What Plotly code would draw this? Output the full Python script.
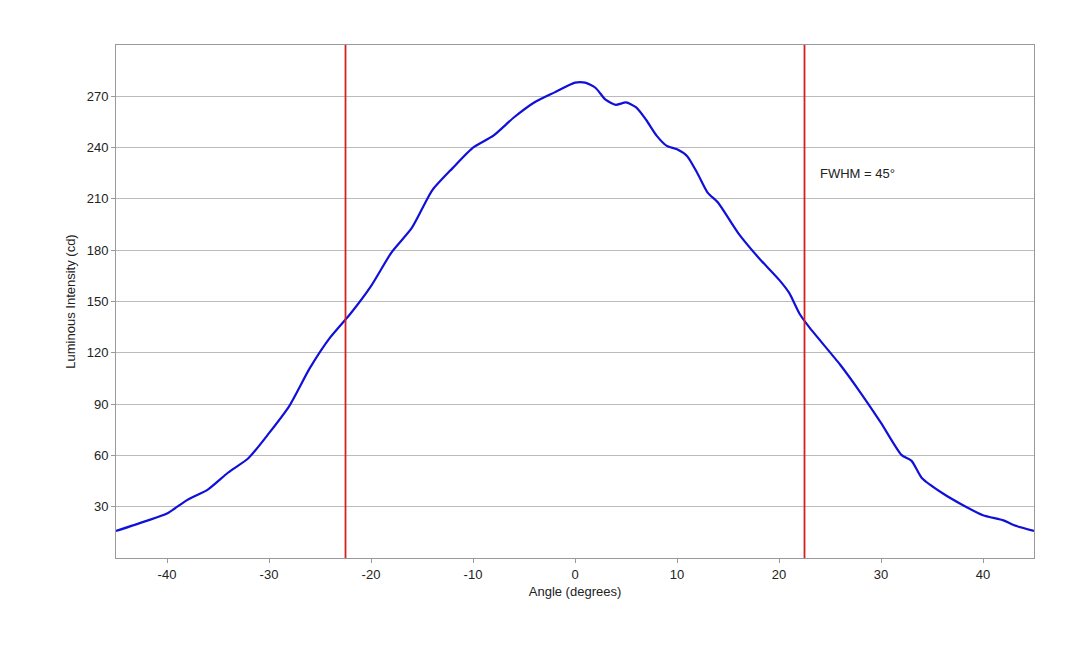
import plotly.graph_objs as go

angle = [-45, -42, -40, -38, -36, -34, -32, -30, -28, -26, -24, -22, -20, -18, -16, -14, -12, -10, -8, -6, -4, -2,
         0, 1, 2, 3, 4, 5, 6, 7, 8, 9, 10, 11, 12, 13, 14, 16, 18, 20, 21, 22, 23, 26, 28, 30, 32, 33, 34, 36, 38,
         40, 42, 43, 45]
intensity = [15.8, 21.7, 26, 34, 40, 50, 58.5, 73, 89, 111, 129, 143, 159, 178.6, 193, 215, 228, 240, 247, 257.6,
             266.4, 272.3, 278, 278, 275, 268, 265, 266.4, 263.5, 256, 247, 241, 239, 235, 225, 213.7, 208, 190,
             175.6, 162.8, 155, 143, 134.7, 113, 96.6, 79, 60.3, 56.8, 46.8, 38, 31, 25, 22, 19.3, 15.8]
fwhm_edges = [-22.5, 22.5]
yticks = [30, 60, 90, 120, 150, 180, 210, 240, 270]
xticks = [-40, -30, -20, -10, 0, 10, 20, 30, 40]
xticklabels = ['-40', '-30', '-20', '-10', '0', '10', '20', '30', '40']

fig = go.Figure()
fig.add_trace(go.Scatter(x=angle, y=intensity, mode='lines',
                         line=dict(color='#1010d8', width=2.2, shape='spline', smoothing=0.6)))
for e in fwhm_edges:
    fig.add_shape(type='line', x0=e, x1=e, y0=0, y1=1, yref='paper', line=dict(color='#d62020', width=1.8))
fig.add_annotation(x=23.8, y=225, text='FWHM = 45°', showarrow=False, xanchor='left', font=dict(size=13, color='#222'))

fig.update_layout(
    width=1080, height=648, showlegend=False,
    plot_bgcolor='white', paper_bgcolor='white',
    margin=dict(l=108, r=54, t=37, b=98, autoexpand=False),
    font=dict(family='Liberation Sans, Arial', size=13, color='#222'),
    xaxis=dict(range=[-45, 45], tickvals=xticks, ticktext=xticklabels, showgrid=False, zeroline=False,
               showline=True, linecolor='#999', mirror=True, ticks='outside', ticklen=4, tickcolor='#999',
               automargin=False, title=dict(text='Angle (degrees)', standoff=6, font=dict(size=13))),
    yaxis=dict(range=[0, 300], tickvals=yticks, showgrid=True, gridcolor='#bbb', zeroline=False,
               showline=True, linecolor='#999', mirror=True, ticks='outside', ticklen=4, tickcolor='#999',
               automargin=False, title=dict(text='Luminous Intensity (cd)', standoff=8, font=dict(size=13))),
)
fig.write_html('out.html')
